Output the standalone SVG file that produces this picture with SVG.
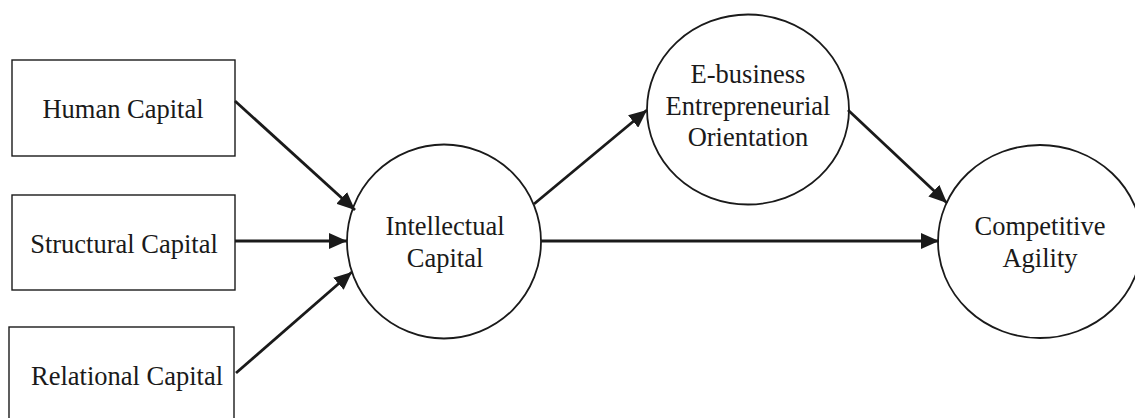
<svg xmlns="http://www.w3.org/2000/svg" width="1135" height="418" viewBox="0 0 1135 418">
  <style>
    .box { fill: #fff; stroke: #1a1a1a; stroke-width: 1.4; }
    .node { fill: #fff; stroke: #1a1a1a; stroke-width: 1.8; }
    .lbl { font-family: "Liberation Serif", "Times New Roman", serif; font-size: 26.5px; fill: #1a1a1a; text-anchor: middle; }
    .edge { stroke: #1a1a1a; stroke-width: 2.8; fill: none; marker-end: url(#head); }
  </style>
  <defs>
    <marker id="head" markerUnits="userSpaceOnUse" markerWidth="20" markerHeight="16" refX="18" refY="8" orient="auto">
      <path d="M0,0 L18,8 L0,16 Z" fill="#1a1a1a"/>
    </marker>
  </defs>
  <rect width="1135" height="418" fill="#fff"/>

  <g id="human-capital">
    <rect class="box" x="12" y="60" width="223" height="96"/>
    <text class="lbl" x="123" y="118">Human Capital</text>
  </g>
  <g id="structural-capital">
    <rect class="box" x="12" y="195" width="223" height="95"/>
    <text class="lbl" x="124" y="253">Structural Capital</text>
  </g>
  <g id="relational-capital">
    <rect class="box" x="9" y="327" width="225" height="100"/>
    <text class="lbl" x="127" y="385">Relational Capital</text>
  </g>
  <g id="intellectual-capital">
    <circle class="node" cx="444" cy="241.5" r="97"/>
    <text class="lbl" x="445" y="235">Intellectual</text>
    <text class="lbl" x="445" y="267">Capital</text>
  </g>
  <g id="ebusiness-eo">
    <ellipse class="node" cx="748" cy="109.5" rx="101" ry="95"/>
    <text class="lbl" x="748" y="83">E-business</text>
    <text class="lbl" x="748" y="115">Entrepreneurial</text>
    <text class="lbl" x="748" y="146">Orientation</text>
  </g>
  <g id="competitive-agility">
    <ellipse class="node" cx="1040" cy="241.5" rx="102" ry="96.5"/>
    <text class="lbl" x="1040" y="235">Competitive</text>
    <text class="lbl" x="1040" y="267">Agility</text>
  </g>

  <g id="connectors">
    <line class="edge" x1="235" y1="101" x2="355" y2="210"/>
    <line class="edge" x1="235" y1="241" x2="347" y2="241"/>
    <line class="edge" x1="236" y1="373" x2="352" y2="272"/>
    <line class="edge" x1="534" y1="204" x2="647" y2="110"/>
    <line class="edge" x1="541" y1="241" x2="939" y2="241"/>
    <line class="edge" x1="848" y1="110" x2="947" y2="203"/>
  </g>
</svg>
